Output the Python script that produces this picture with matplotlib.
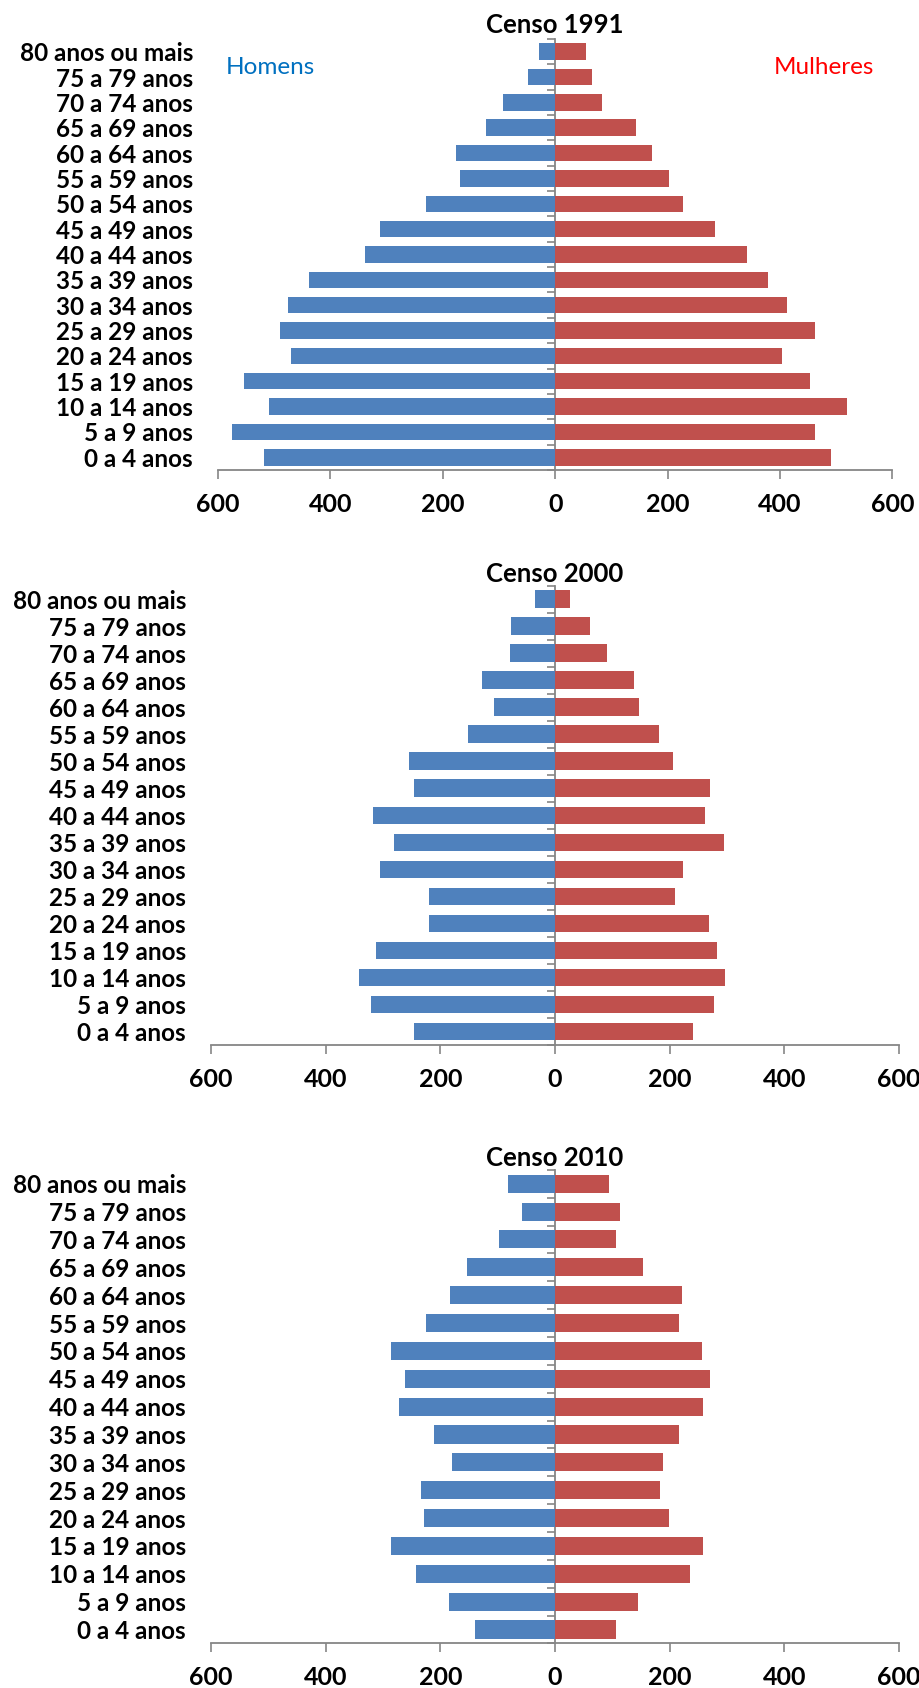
import matplotlib
matplotlib.use('Agg')
import matplotlib.pyplot as plt
import numpy as np

plt.rcParams['font.family'] = ['Lato', 'DejaVu Sans']

faixas = ['0 a 4 anos', '5 a 9 anos', '10 a 14 anos', '15 a 19 anos',
          '20 a 24 anos', '25 a 29 anos', '30 a 34 anos', '35 a 39 anos',
          '40 a 44 anos', '45 a 49 anos', '50 a 54 anos', '55 a 59 anos',
          '60 a 64 anos', '65 a 69 anos', '70 a 74 anos', '75 a 79 anos',
          '80 anos ou mais']

homens_1991 = [519, 576, 509, 554, 471, 489, 476, 439, 339, 312, 230, 169, 177, 123, 93, 49, 28]
mulheres_1991 = [491, 462, 519, 453, 404, 463, 413, 378, 342, 284, 228, 202, 172, 143, 84, 65, 54]

homens_2000 = [246, 321, 341, 312, 220, 220, 306, 281, 317, 245, 254, 151, 107, 128, 78, 76, 34]
mulheres_2000 = [240, 278, 296, 282, 269, 210, 223, 295, 261, 270, 206, 182, 146, 138, 90, 61, 27]

homens_2010 = [139, 184, 242, 286, 228, 233, 180, 211, 272, 262, 286, 225, 183, 153, 98, 58, 82]
mulheres_2010 = [107, 144, 235, 259, 199, 183, 188, 217, 258, 270, 257, 217, 222, 153, 106, 113, 95]

titulos = ['Censo 1991', 'Censo 2000', 'Censo 2010']
limite = 600

AZUL = '#4F81BD'
VERMELHO = '#C0504D'
CINZA = '#868686'


def piramide(ax, titulo, homens, mulheres, pad_titulo):
    y = np.arange(len(faixas))
    ax.barh(y, -np.array(homens), height=0.65, color=AZUL)
    ax.barh(y, mulheres, height=0.65, color=VERMELHO)
    ax.set_xlim(-limite, limite)
    ax.set_ylim(-0.5, len(faixas) - 0.5)

    marcas = np.arange(-limite, limite + 1, 200)
    ax.set_xticks(marcas)
    ax.set_xticklabels([str(abs(m)) for m in marcas], fontweight='bold', fontsize=18)
    ax.set_yticks(y)
    ax.set_yticklabels(faixas, fontweight='bold', fontsize=17.5)
    ax.tick_params(axis='y', length=0, pad=18)
    ax.tick_params(axis='x', length=6.3, width=1.2, color=CINZA, pad=10)

    for lado in ['top', 'right', 'left']:
        ax.spines[lado].set_visible(False)
    ax.spines['bottom'].set_color(CINZA)
    ax.spines['bottom'].set_linewidth(1.3)

    # eixo vertical no zero, com marcas entre as faixas etarias
    eixo = ax.secondary_yaxis(0.5)
    eixo.set_yticks(np.arange(len(faixas) + 1) - 0.5)
    eixo.tick_params(direction='in', length=6, width=1.2, color=CINZA,
                     labelleft=False, labelright=False)
    for lado in ['left', 'right']:
        eixo.spines[lado].set_color(CINZA)
        eixo.spines[lado].set_linewidth(1.3)

    ax.set_title(titulo, fontweight='bold', fontsize=18.5, pad=pad_titulo)


fig = plt.figure(figsize=(9.2, 16.88), dpi=100)

posicoes = [[0.237, 0.7216, 0.733, 0.2553],
            [0.2293, 0.3809, 0.7478, 0.2722],
            [0.2293, 0.0264, 0.7478, 0.2806]]
pads = [4, 0.5, 0.5]
dados = [(homens_1991, mulheres_1991), (homens_2000, mulheres_2000), (homens_2010, mulheres_2010)]

eixos = []
for pos, titulo, (h, m), p in zip(posicoes, titulos, dados, pads):
    ax = fig.add_axes(pos)
    piramide(ax, titulo, h, m, p)
    eixos.append(ax)

eixos[0].text(-506, 15.36, 'Homens', color='#0070C0', fontsize=17.5, ha='center', va='center')
eixos[0].text(479, 15.36, 'Mulheres', color='#FF0000', fontsize=17.5, ha='center', va='center')

fig.savefig('out.png', dpi=100)
